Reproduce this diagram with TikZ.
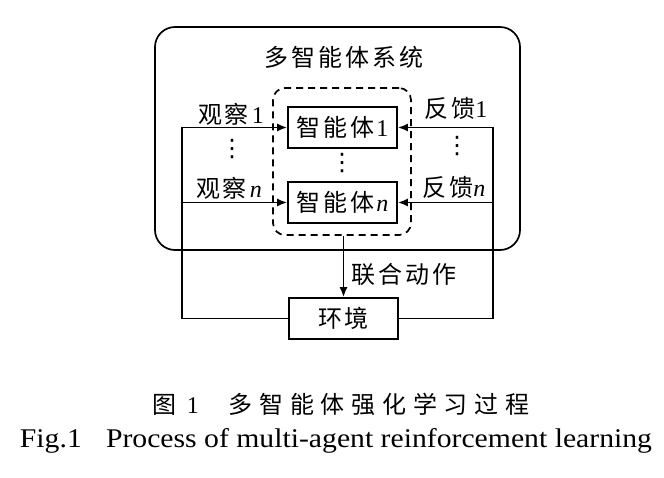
\documentclass[tikz,border=0pt]{standalone}
\usepackage{fontspec}
\setmainfont{Liberation Serif}
\newfontfamily\cjk[LetterSpace=12]{Noto Sans CJK SC}
\newfontfamily\cjkcap[LetterSpace=28]{Noto Sans CJK SC}
\newfontfamily\dvs{DejaVu Sans}
\usetikzlibrary{arrows.meta}
\begin{document}
\begin{tikzpicture}[x=1pt,y=-1pt,line width=1.7pt,
  >={Latex[length=10pt,width=8pt]},
  font=\fontsize{24}{28}\selectfont,
  box/.style={draw,minimum width=109pt,minimum height=41pt,inner sep=0pt},
  lbl/.style={inner sep=0pt,anchor=center},
  vd/.style={inner sep=0pt,anchor=center,font=\dvs\fontsize{24}{28}\selectfont}]
\useasboundingbox (0,0) rectangle (664,477);
\node[draw,rounded corners=20pt,minimum width=365pt,minimum height=223pt,inner sep=0pt] (sys) at (337.5,138.5) {};
\node[lbl] (title) at (344,57) {\cjk 多智能体系统};
\node[draw,dashed,dash pattern=on 7pt off 5pt,rounded corners=12pt,minimum width=138pt,minimum height=147pt,inner sep=0pt] (team) at (342,161.5) {};
\node[box] (a1) at (342.5,127.5) {{\cjk 智能体}\hspace{2pt}1};
\node[box] (an) at (342.5,202.5) {{\cjk 智能体}\hspace{2pt}\textit{n}};
\node[box] (env) at (343.5,318.5) {\cjk 环境};
\coordinate (L) at (182,0);
\coordinate (R) at (493,0);
\draw[->] (env.west) -| (L |- a1.west) -- (a1.west);
\draw[->] (L |- an.west) -- (an.west);
\draw[->] (env.east) -| (R |- a1.east) -- (a1.east);
\draw[->] (R |- an.east) -- (an.east);
\draw[->] (team.south -| env.north) -- (env.north);
\node[lbl] (o1) at (231,114) {{\cjk 观察}\hspace{3pt}1};
\node[lbl] (on) at (229,188) {{\cjk 观察}\hspace{3pt}\textit{n}};
\node[lbl] (f1) at (456,108) {{\cjk 反馈}1};
\node[lbl] (fn) at (454,187) {{\cjk 反馈}\textit{n}};
\node[vd] (d1) at (232,149) {⋮};
\node[vd] (d2) at (342,163.5) {⋮};
\node[vd] (d3) at (457,146.5) {⋮};
\node[lbl] (act) at (404,274) {\cjk 联合动作};
\node[lbl] (cap1) at (341,404) {{\cjkcap 图}\hspace{10pt}1\hspace{30pt}{\cjkcap 多智能体强化学习过程}};
\node[inner sep=0pt,anchor=base,font=\fontsize{27}{32}\selectfont] (cap2) at (336,447) {\scalebox{1.1}[1]{Fig.1\hspace{22pt}Process of multi-agent reinforcement learning}};
\end{tikzpicture}
\end{document}
